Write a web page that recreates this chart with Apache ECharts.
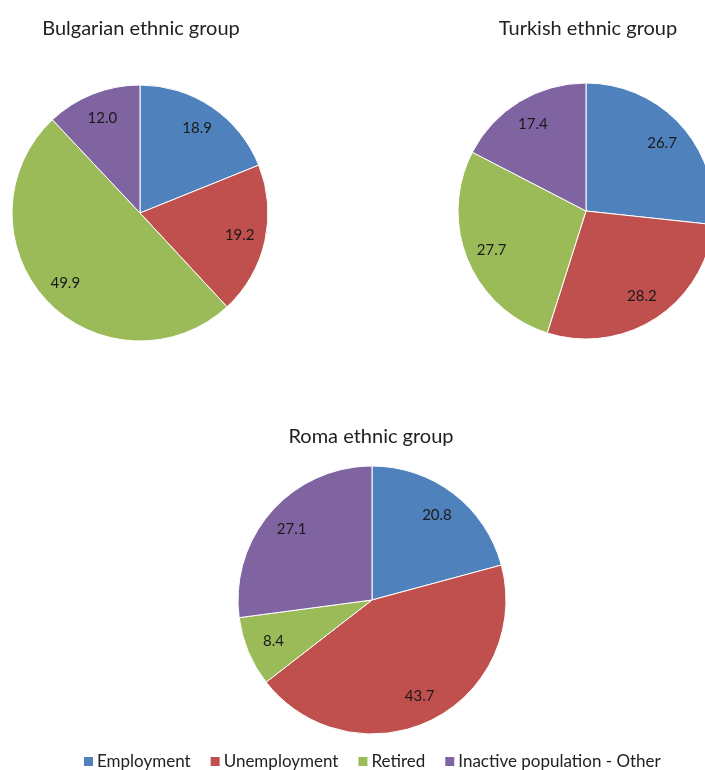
<!DOCTYPE html>
<html>
<head>
<meta charset="utf-8">
<script src="https://cdn.jsdelivr.net/npm/echarts@6/dist/echarts.min.js"></script>
<style>
  html, body { margin: 0; padding: 0; background: #fff; }
  #display { width: 705px; height: 770px; }
</style>
</head>
<body>
<div id="display"></div>
<script>
// categories and values per ethnic group
var categories = ['Employment', 'Unemployment', 'Retired', 'Inactive population - Other'];
var colors = ['#4F81BD', '#C0504D', '#9BBB59', '#8064A2'];
var bulgarian = [18.9, 19.2, 49.9, 12.0];
var turkish = [26.7, 28.2, 27.7, 17.4];
var roma = [20.8, 43.7, 8.4, 27.1];

var font = 'Lato, "Open Sans", sans-serif';

function toData(vals) {
    return vals.map(function (v, i) {
        return { name: categories[i], value: v };
    });
}

// one pie with slices, and a transparent ring on top that carries the labels
function piePair(vals, center, r) {
    return [{
        type: 'pie',
        center: center,
        radius: [0, r],
        startAngle: 90,
        clockwise: true,
        silent: true,
        label: { show: false },
        labelLine: { show: false },
        itemStyle: { borderColor: '#ffffff', borderWidth: 1 },
        data: toData(vals)
    }, {
        type: 'pie',
        center: center,
        radius: [r * 0.55, r],
        startAngle: 90,
        clockwise: true,
        silent: true,
        legendHoverLink: false,
        itemStyle: { color: 'transparent' },
        label: {
            show: true,
            position: 'inside',
            color: '#1a1a1a',
            fontSize: 15,
            fontFamily: font,
            formatter: function (p) { return p.value.toFixed(1); }
        },
        labelLine: { show: false },
        data: toData(vals)
    }];
}

var titleStyle = { fontFamily: font, fontSize: 20, fontWeight: 'normal', color: '#222' };

var myDisplay = echarts.init(document.getElementById('display'));
myDisplay.setOption({
    animation: false,
    color: colors,
    title: [
        { text: 'Bulgarian ethnic group', left: 136, top: 14, textAlign: 'center', textStyle: titleStyle },
        { text: 'Turkish ethnic group', left: 583, top: 14, textAlign: 'center', textStyle: titleStyle },
        { text: 'Roma ethnic group', left: 366, top: 422, textAlign: 'center', textStyle: titleStyle }
    ],
    legend: {
        data: categories,
        left: 77,
        top: 748,
        icon: 'rect',
        itemWidth: 11,
        itemHeight: 11,
        itemGap: 18,
        selectedMode: false,
        textStyle: { fontFamily: font, fontSize: 17, color: '#222', padding: [0, 0, 0, -2] }
    },
    series: []
        .concat(piePair(bulgarian, [140, 213], 128))
        .concat(piePair(turkish, [586, 211], 128))
        .concat(piePair(roma, [372, 600], 134))
});
</script>
</body>
</html>
